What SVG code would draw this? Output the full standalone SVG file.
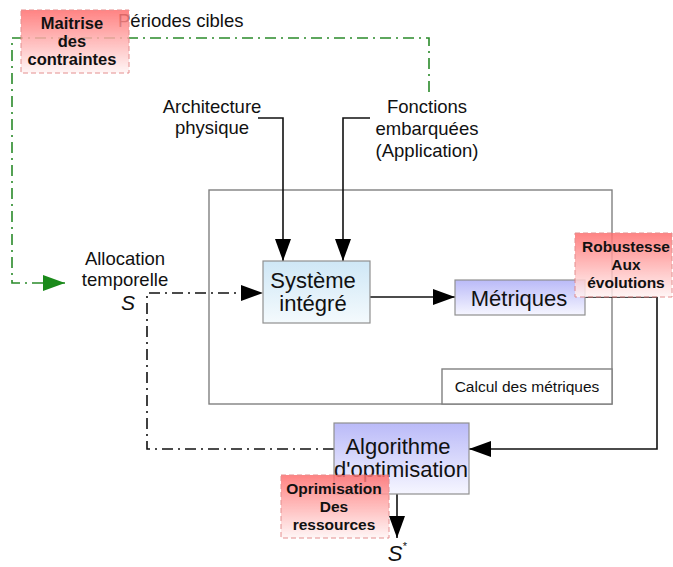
<svg xmlns="http://www.w3.org/2000/svg" width="673" height="567" viewBox="0 0 673 567">
  <style>
    text { font-family: "Liberation Sans", Arial, sans-serif; fill: #111; }
    .lbl { font-size: 18.5px; }
    .big { font-size: 22px; }
    .note { font-size: 15.5px; font-weight: bold; text-anchor: middle; }
    .note.wide { font-size: 16.5px; }
    .wire { fill: none; stroke: #111; stroke-width: 1.6; }
    .dd { fill: none; stroke: #111; stroke-width: 1.6; stroke-dasharray: 11 5 2 5; }
    .green { fill: none; stroke: #2a8a2a; stroke-width: 1.6; stroke-dasharray: 11 5 2 5; }
    .frame { fill: #fff; stroke: #808080; stroke-width: 1.4; }
    .tag { fill: url(#redGrad); stroke: #e07c7c; stroke-width: 1; stroke-dasharray: 5 3; opacity: 0.85; }
  </style>
  <defs>
    <linearGradient id="redGrad" x1="0" y1="0" x2="0" y2="1">
      <stop offset="0" stop-color="#ff6e6e"/>
      <stop offset="1" stop-color="#fff5f5"/>
    </linearGradient>
    <linearGradient id="cyanGrad" x1="0" y1="0" x2="0" y2="1">
      <stop offset="0" stop-color="#cfe7f6"/>
      <stop offset="1" stop-color="#f4fafd"/>
    </linearGradient>
    <linearGradient id="violetGrad" x1="0" y1="0" x2="0" y2="1">
      <stop offset="0" stop-color="#babaf8"/>
      <stop offset="1" stop-color="#f6f6ff"/>
    </linearGradient>
    <marker id="arrow" viewBox="0 0 22 16" refX="22" refY="8" markerWidth="22" markerHeight="16" markerUnits="userSpaceOnUse" orient="auto">
      <path d="M0,0 L22,8 L0,16 Z" fill="#000"/>
    </marker>
    <marker id="arrowG" viewBox="0 0 22 16" refX="22" refY="8" markerWidth="22" markerHeight="16" markerUnits="userSpaceOnUse" orient="auto">
      <path d="M0,0 L22,8 L0,16 Z" fill="#1a8a1a"/>
    </marker>
  </defs>

  <!-- Outer frame for metric computation -->
  <g id="calcul">
    <rect class="frame" x="209" y="190" width="403" height="214"/>
    <rect class="frame" x="442" y="369" width="170" height="35"/>
    <text x="527" y="392" font-size="15.5" text-anchor="middle">Calcul des métriques</text>
  </g>

  <!-- Connectors -->
  <g id="connectors">
    <path class="green" d="M429,92 V38 H12 V283 H65" marker-end="url(#arrowG)"/>
    <path class="wire" d="M258,118 H283 V261" marker-end="url(#arrow)"/>
    <path class="wire" d="M370,118 H343 V261" marker-end="url(#arrow)"/>
    <path class="dd" d="M334,449 H147 V293 H263" marker-end="url(#arrow)"/>
    <path class="wire" d="M370,297 H455" marker-end="url(#arrow)"/>
    <path class="wire" d="M585,297 H657 V449 H469" marker-end="url(#arrow)"/>
    <path class="wire" d="M397,494 V538" marker-end="url(#arrow)"/>
  </g>

  <g id="periodes">
    <text x="118" y="27" font-size="18.5">Périodes cibles</text>
  </g>

  <g id="architecture">
    <text class="lbl" x="212" y="113" text-anchor="middle">Architecture</text>
    <text class="lbl" x="212" y="134" text-anchor="middle">physique</text>
  </g>

  <g id="fonctions">
    <text class="lbl" x="427" y="113" text-anchor="middle">Fonctions</text>
    <text class="lbl" x="427" y="135" text-anchor="middle">embarquées</text>
    <text class="lbl" x="427" y="157" text-anchor="middle">(Application)</text>
  </g>

  <g id="allocation">
    <text class="lbl" x="125" y="265" text-anchor="middle">Allocation</text>
    <text class="lbl" x="125" y="286" text-anchor="middle">temporelle</text>
    <text x="128" y="310" font-size="21" font-style="italic" text-anchor="middle">S</text>
  </g>

  <g id="systeme">
    <rect x="263" y="261" width="107" height="62" fill="url(#cyanGrad)" stroke="#909090" stroke-width="1.2"/>
    <text class="big" x="313" y="288" text-anchor="middle">Système</text>
    <text class="big" x="313" y="311" text-anchor="middle">intégré</text>
  </g>

  <g id="metriques">
    <rect x="455" y="280" width="130" height="35" fill="url(#violetGrad)" stroke="#909090" stroke-width="1.2"/>
    <text class="big" x="519" y="306" text-anchor="middle">Métriques</text>
  </g>

  <g id="algorithme">
    <rect x="334" y="423" width="135" height="71" fill="url(#violetGrad)" stroke="#909090" stroke-width="1.2"/>
    <text class="big" x="398" y="454" text-anchor="middle">Algorithme</text>
    <text class="big" x="401" y="477" text-anchor="middle">d'optimisation</text>
  </g>

  <g id="sstar">
    <text x="395" y="561" font-size="22" font-style="italic" text-anchor="middle">S</text>
    <text x="405" y="550" font-size="11" text-anchor="middle">*</text>
  </g>

  <g id="maitrise">
    <rect class="tag" x="21" y="10" width="108" height="63"/>
    <text class="note wide" x="72" y="29">Maitrise</text>
    <text class="note wide" x="72" y="47">des</text>
    <text class="note wide" x="72" y="65">contraintes</text>
  </g>

  <g id="robustesse">
    <rect class="tag" x="575" y="233" width="97" height="64"/>
    <text class="note" x="626" y="252">Robustesse</text>
    <text class="note" x="626" y="270">Aux</text>
    <text class="note" x="626" y="288">évolutions</text>
  </g>

  <g id="oprimisation">
    <rect class="tag" x="281" y="475" width="108" height="63"/>
    <text class="note" x="334" y="494">Oprimisation</text>
    <text class="note" x="334" y="512">Des</text>
    <text class="note" x="334" y="530">ressources</text>
  </g>
</svg>
